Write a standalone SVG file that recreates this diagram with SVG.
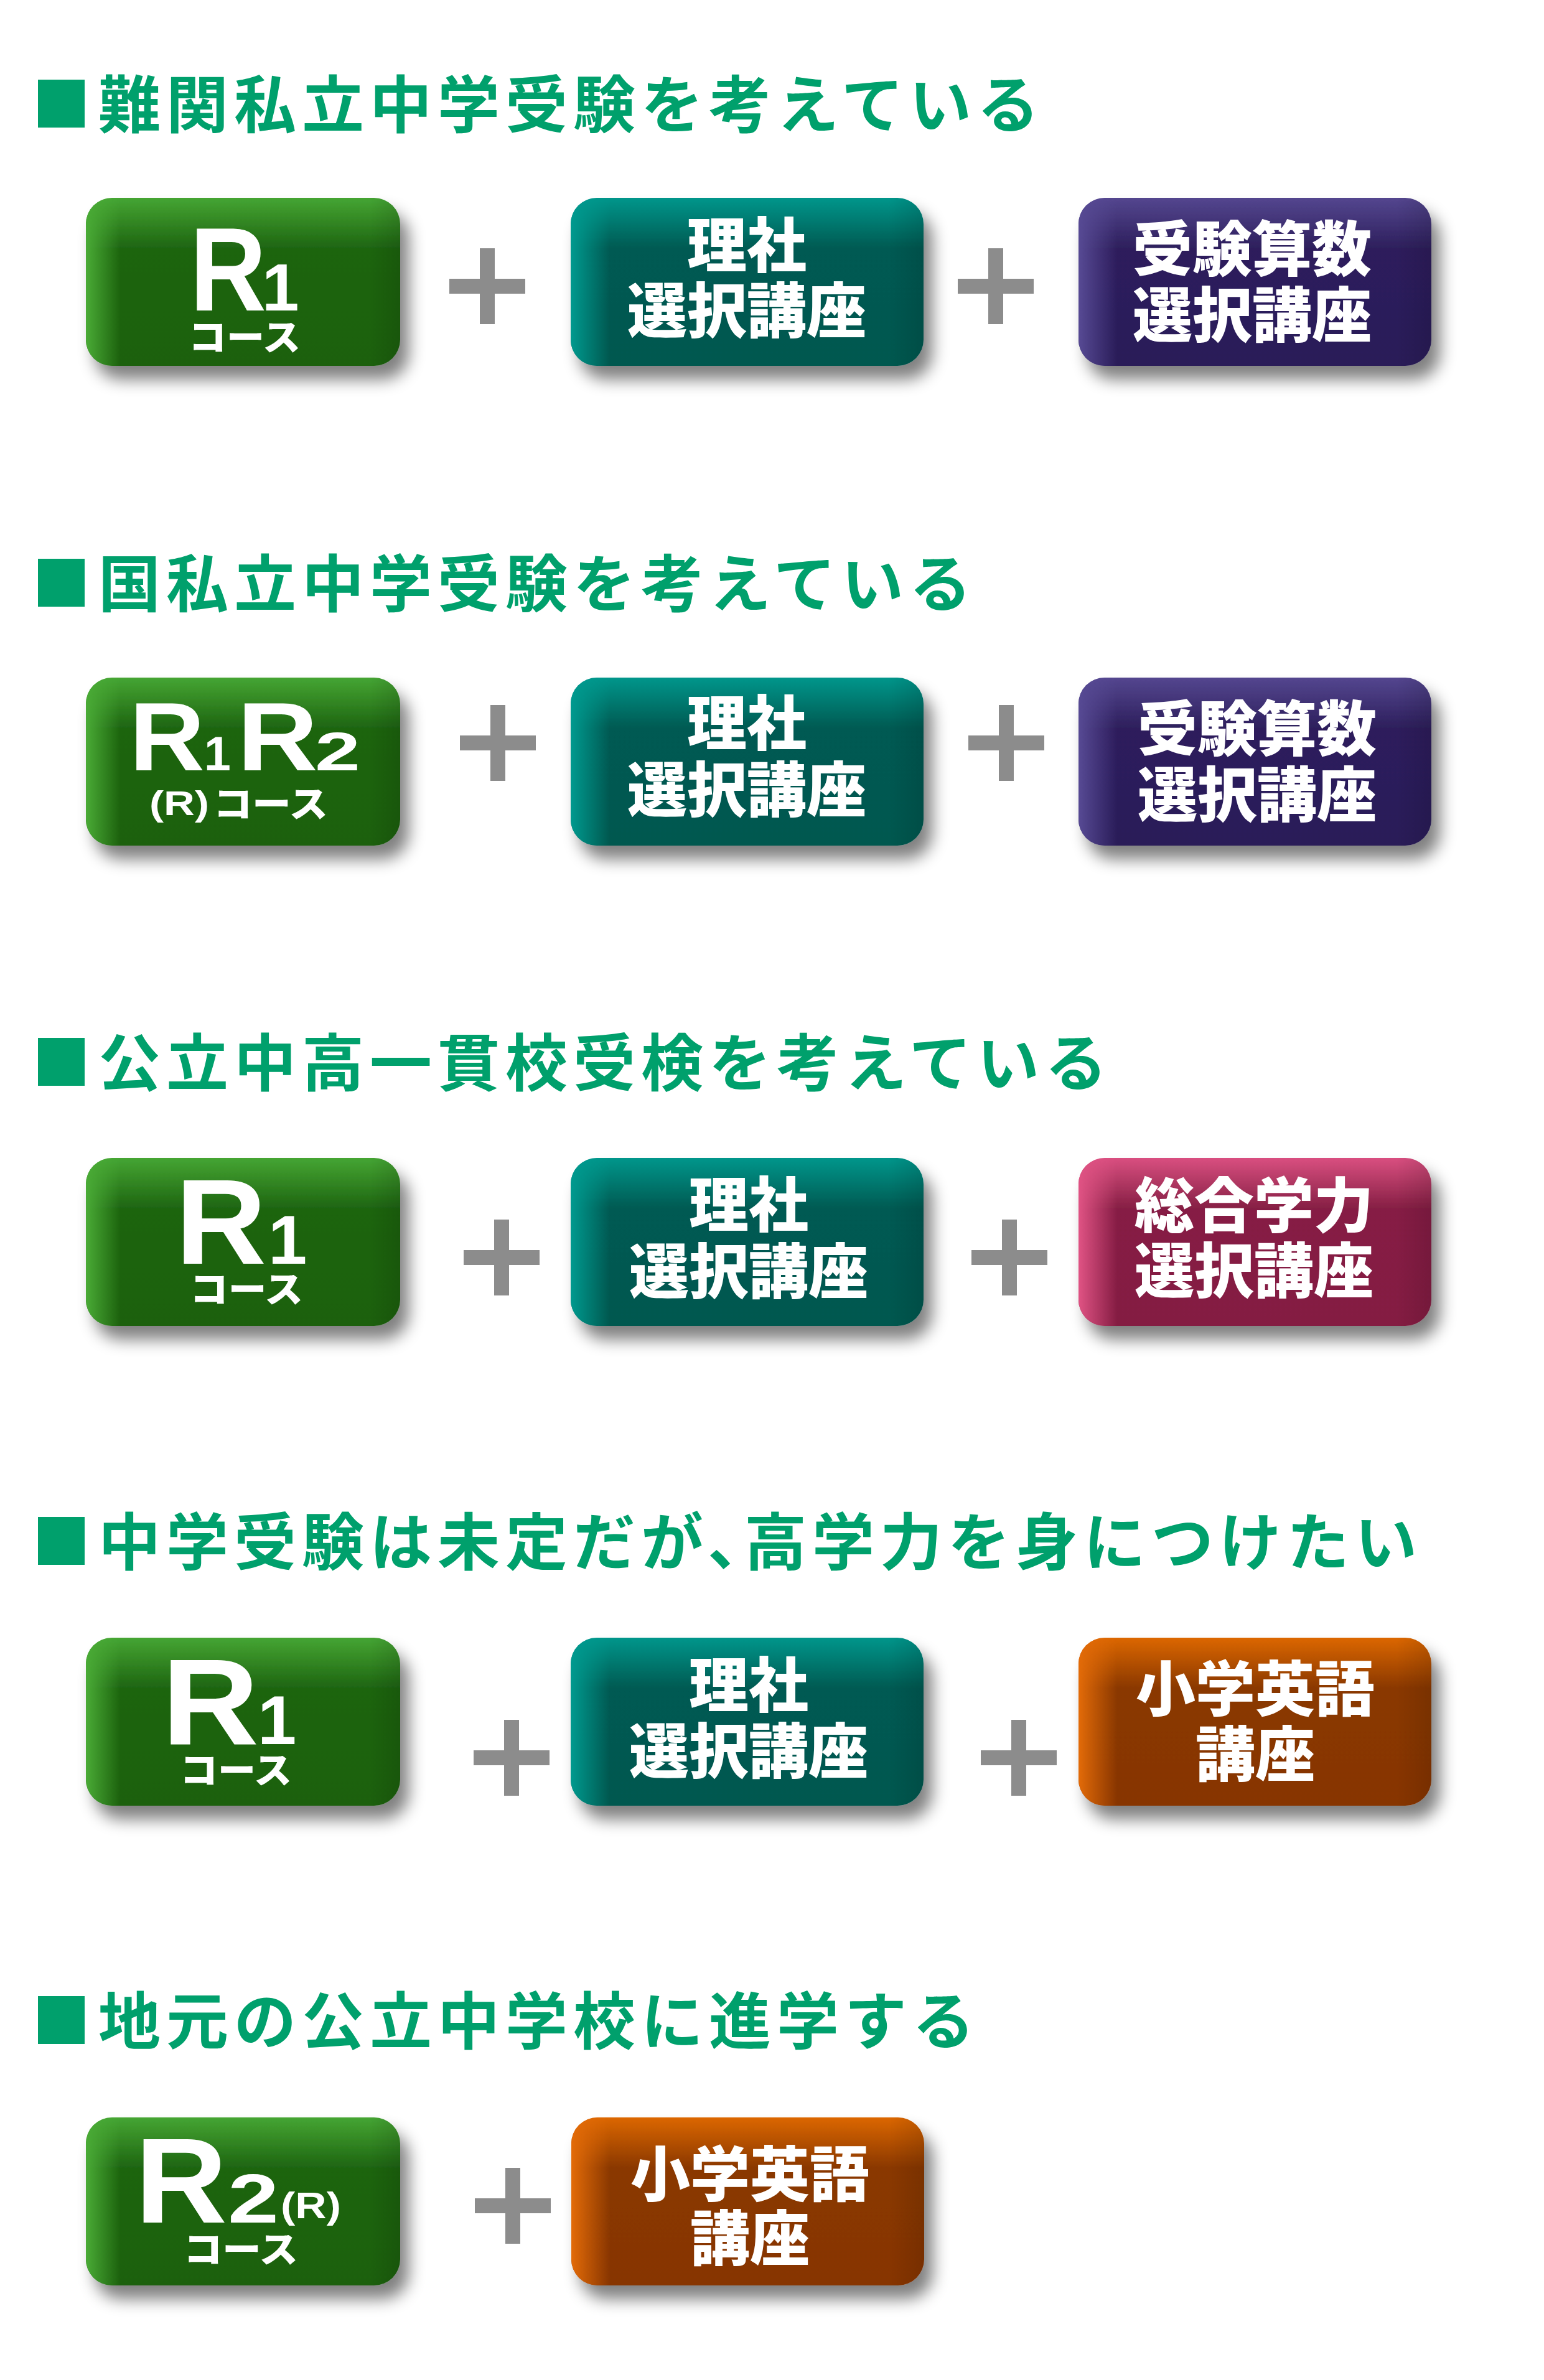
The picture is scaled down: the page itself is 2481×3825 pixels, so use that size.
<svg xmlns="http://www.w3.org/2000/svg" width="2481" height="3825" viewBox="0 0 2481 3825">
<style>
.h{font-family:"Noto Sans CJK JP","Noto Sans CJK SC",sans-serif;font-weight:700;font-size:100px;fill:#00a06c;letter-spacing:9px}
.sq{fill:#00a06c}
.jp{font-family:"Noto Sans CJK JP","Noto Sans CJK SC",sans-serif;font-weight:900;font-size:96px;fill:#fff;text-anchor:middle}
.lat{font-family:"Liberation Sans",Arial,sans-serif;font-weight:700;fill:#fff}
.ks{font-family:"Noto Sans CJK JP","Noto Sans CJK SC",sans-serif;font-weight:900;font-size:58px;fill:#fff}
.plus{fill:#8c8c8c}
</style>
<defs>
<filter id="sh" x="-15%" y="-15%" width="140%" height="150%">
<feGaussianBlur in="SourceAlpha" stdDeviation="13"/>
<feOffset dx="14" dy="22" result="b"/>
<feComponentTransfer in="b"><feFuncA type="linear" slope="0.5"/></feComponentTransfer>
<feMerge><feMergeNode/><feMergeNode in="SourceGraphic"/></feMerge>
</filter>
<linearGradient id="gV" x1="0" y1="0" x2="0" y2="1"><stop offset="0" stop-color="#45a533"/><stop offset="0.3" stop-color="#1e6511"/><stop offset="1" stop-color="#1d6110"/></linearGradient>
<linearGradient id="gH" x1="0" y1="0" x2="1" y2="0"><stop offset="0" stop-color="#4aab36"/><stop offset="0.11" stop-color="#4aab36" stop-opacity="0"/><stop offset="0.9" stop-color="#000" stop-opacity="0"/><stop offset="1" stop-color="#000" stop-opacity="0.12"/></linearGradient>
<linearGradient id="tV" x1="0" y1="0" x2="0" y2="1"><stop offset="0" stop-color="#00968b"/><stop offset="0.3" stop-color="#005a52"/><stop offset="1" stop-color="#005850"/></linearGradient>
<linearGradient id="tH" x1="0" y1="0" x2="1" y2="0"><stop offset="0" stop-color="#009a8f"/><stop offset="0.11" stop-color="#009a8f" stop-opacity="0"/><stop offset="0.9" stop-color="#000" stop-opacity="0"/><stop offset="1" stop-color="#000" stop-opacity="0.12"/></linearGradient>
<linearGradient id="pV" x1="0" y1="0" x2="0" y2="1"><stop offset="0" stop-color="#54468f"/><stop offset="0.3" stop-color="#2d1f5c"/><stop offset="1" stop-color="#2b1e59"/></linearGradient>
<linearGradient id="pH" x1="0" y1="0" x2="1" y2="0"><stop offset="0" stop-color="#574a94"/><stop offset="0.11" stop-color="#574a94" stop-opacity="0"/><stop offset="0.9" stop-color="#000" stop-opacity="0"/><stop offset="1" stop-color="#000" stop-opacity="0.12"/></linearGradient>
<linearGradient id="mV" x1="0" y1="0" x2="0" y2="1"><stop offset="0" stop-color="#d94f80"/><stop offset="0.3" stop-color="#861f44"/><stop offset="1" stop-color="#841e43"/></linearGradient>
<linearGradient id="mH" x1="0" y1="0" x2="1" y2="0"><stop offset="0" stop-color="#e05384"/><stop offset="0.11" stop-color="#e05384" stop-opacity="0"/><stop offset="0.9" stop-color="#000" stop-opacity="0"/><stop offset="1" stop-color="#000" stop-opacity="0.12"/></linearGradient>
<linearGradient id="oV" x1="0" y1="0" x2="0" y2="1"><stop offset="0" stop-color="#dc6706"/><stop offset="0.3" stop-color="#8a3805"/><stop offset="1" stop-color="#873503"/></linearGradient>
<linearGradient id="oH" x1="0" y1="0" x2="1" y2="0"><stop offset="0" stop-color="#e36b08"/><stop offset="0.11" stop-color="#e36b08" stop-opacity="0"/><stop offset="0.9" stop-color="#000" stop-opacity="0"/><stop offset="1" stop-color="#000" stop-opacity="0.12"/></linearGradient>
</defs>
<rect width="2481" height="3825" fill="#fff"/>

<!-- Headings -->
<g id="heading1"><rect class="sq" x="61" y="128" width="75" height="77"/><text class="h" x="158" y="205">難関私立中学受験を考えている</text></g>
<g id="heading2"><rect class="sq" x="61" y="898" width="75" height="77"/><text class="h" x="158" y="975">国私立中学受験を考えている</text></g>
<g id="heading3"><rect class="sq" x="61" y="1668" width="75" height="77"/><text class="h" x="158" y="1745">公立中高一貫校受検を考えている</text></g>
<g id="heading4"><rect class="sq" x="61" y="2438" width="75" height="77"/><text class="h" x="158" y="2515">中学受験は未定だが、<tspan dx="-50">高学力を身につけたい</tspan></text></g>
<g id="heading5"><rect class="sq" x="61" y="3208" width="75" height="77"/><text class="h" x="158" y="3285">地元の公立中学校に進学する</text></g>

<!-- Row 1 -->
<g id="r1-course">
<rect x="138" y="318" width="505" height="270" rx="42" fill="url(#gV)" filter="url(#sh)"/>
<rect x="138" y="318" width="505" height="270" rx="42" fill="url(#gH)"/>
<text class="lat" y="499"><tspan x="305" font-size="191" textLength="123" lengthAdjust="spacingAndGlyphs">R</tspan><tspan x="421" font-size="107">1</tspan></text>
<text class="ks" x="393" y="563" text-anchor="middle" textLength="180" lengthAdjust="spacingAndGlyphs">コース</text>
</g>
<g id="r1-rika">
<rect x="917" y="318" width="567" height="270" rx="42" fill="url(#tV)" filter="url(#sh)"/>
<rect x="917" y="318" width="567" height="270" rx="42" fill="url(#tH)"/>
<text class="jp" x="1200" y="429">理社</text>
<text class="jp" x="1200" y="534">選択講座</text>
</g>
<g id="r1-sansu">
<rect x="1733" y="318" width="567" height="270" rx="42" fill="url(#pV)" filter="url(#sh)"/>
<rect x="1733" y="318" width="567" height="270" rx="42" fill="url(#pH)"/>
<text class="jp" x="2012" y="435">受験算数</text>
<text class="jp" x="2012" y="541">選択講座</text>
</g>

<!-- Row 2 -->
<g id="r2-course">
<rect x="138" y="1089" width="505" height="270" rx="42" fill="url(#gV)" filter="url(#sh)"/>
<rect x="138" y="1089" width="505" height="270" rx="42" fill="url(#gH)"/>
<text class="lat" y="1238"><tspan x="208" font-size="156" textLength="121" lengthAdjust="spacingAndGlyphs">R</tspan><tspan x="328" font-size="77">1</tspan><tspan x="381" font-size="156" textLength="130" lengthAdjust="spacingAndGlyphs">R</tspan><tspan x="506" font-size="88" textLength="73" lengthAdjust="spacingAndGlyphs">2</tspan></text>
<text y="1310"><tspan class="lat" x="240" font-size="55" textLength="96" lengthAdjust="spacingAndGlyphs">(R)</tspan><tspan class="ks" x="343" y="1313" textLength="184" lengthAdjust="spacingAndGlyphs">コース</tspan></text>
</g>
<g id="r2-rika">
<rect x="917" y="1089" width="567" height="270" rx="42" fill="url(#tV)" filter="url(#sh)"/>
<rect x="917" y="1089" width="567" height="270" rx="42" fill="url(#tH)"/>
<text class="jp" x="1200" y="1197">理社</text>
<text class="jp" x="1200" y="1304">選択講座</text>
</g>
<g id="r2-sansu">
<rect x="1733" y="1089" width="567" height="270" rx="42" fill="url(#pV)" filter="url(#sh)"/>
<rect x="1733" y="1089" width="567" height="270" rx="42" fill="url(#pH)"/>
<text class="jp" x="2020" y="1206">受験算数</text>
<text class="jp" x="2020" y="1312">選択講座</text>
</g>

<!-- Row 3 -->
<g id="r3-course">
<rect x="138" y="1861" width="505" height="270" rx="42" fill="url(#gV)" filter="url(#sh)"/>
<rect x="138" y="1861" width="505" height="270" rx="42" fill="url(#gH)"/>
<text class="lat" y="2031"><tspan x="282" font-size="194" textLength="146" lengthAdjust="spacingAndGlyphs">R</tspan><tspan x="431" font-size="112">1</tspan></text>
<text class="ks" x="396" y="2093" text-anchor="middle" textLength="182" lengthAdjust="spacingAndGlyphs">コース</text>
</g>
<g id="r3-rika">
<rect x="917" y="1861" width="567" height="270" rx="42" fill="url(#tV)" filter="url(#sh)"/>
<rect x="917" y="1861" width="567" height="270" rx="42" fill="url(#tH)"/>
<text class="jp" x="1203" y="1971">理社</text>
<text class="jp" x="1203" y="2078">選択講座</text>
</g>
<g id="r3-sogo">
<rect x="1733" y="1861" width="567" height="270" rx="42" fill="url(#mV)" filter="url(#sh)"/>
<rect x="1733" y="1861" width="567" height="270" rx="42" fill="url(#mH)"/>
<text class="jp" x="2015" y="1972">総合学力</text>
<text class="jp" x="2015" y="2077">選択講座</text>
</g>

<!-- Row 4 -->
<g id="r4-course">
<rect x="138" y="2632" width="505" height="270" rx="42" fill="url(#gV)" filter="url(#sh)"/>
<rect x="138" y="2632" width="505" height="270" rx="42" fill="url(#gH)"/>
<text class="lat" y="2803"><tspan x="260" font-size="196" textLength="156" lengthAdjust="spacingAndGlyphs">R</tspan><tspan x="414" font-size="112">1</tspan></text>
<text class="ks" x="379" y="2866" text-anchor="middle" textLength="180" lengthAdjust="spacingAndGlyphs">コース</text>
</g>
<g id="r4-rika">
<rect x="917" y="2632" width="567" height="270" rx="42" fill="url(#tV)" filter="url(#sh)"/>
<rect x="917" y="2632" width="567" height="270" rx="42" fill="url(#tH)"/>
<text class="jp" x="1203" y="2743">理社</text>
<text class="jp" x="1203" y="2849">選択講座</text>
</g>
<g id="r4-eigo">
<rect x="1733" y="2632" width="567" height="270" rx="42" fill="url(#oV)" filter="url(#sh)"/>
<rect x="1733" y="2632" width="567" height="270" rx="42" fill="url(#oH)"/>
<text class="jp" x="2017" y="2749">小学英語</text>
<text class="jp" x="2017" y="2854">講座</text>
</g>

<!-- Row 5 -->
<g id="r5-course">
<rect x="138" y="3403" width="505" height="270" rx="42" fill="url(#gV)" filter="url(#sh)"/>
<rect x="138" y="3403" width="505" height="270" rx="42" fill="url(#gH)"/>
<text class="lat" y="3572"><tspan x="217" font-size="194" textLength="148" lengthAdjust="spacingAndGlyphs">R</tspan><tspan x="366" font-size="112" textLength="82" lengthAdjust="spacingAndGlyphs">2</tspan><tspan x="451" y="3565" font-size="60" textLength="97" lengthAdjust="spacingAndGlyphs">(R)</tspan></text>
<text class="ks" x="387" y="3636" text-anchor="middle" textLength="184" lengthAdjust="spacingAndGlyphs">コース</text>
</g>
<g id="r5-eigo">
<rect x="918" y="3403" width="567" height="270" rx="42" fill="url(#oV)" filter="url(#sh)"/>
<rect x="918" y="3403" width="567" height="270" rx="42" fill="url(#oH)"/>
<text class="jp" x="1205" y="3529">小学英語</text>
<text class="jp" x="1205" y="3632">講座</text>
</g>

<!-- Connectors (plus signs) -->
<g id="connectors" class="plus">
<path d="M771 399h24v49h49v24h-49v49h-24v-49h-49v-24h49z"/>
<path d="M1588 399h24v49h49v24h-49v49h-24v-49h-49v-24h49z"/>
<path d="M788 1133h24v49h49v24h-49v49h-24v-49h-49v-24h49z"/>
<path d="M1605 1133h24v49h49v24h-49v49h-24v-49h-49v-24h49z"/>
<path d="M794 1960h24v49h49v24h-49v49h-24v-49h-49v-24h49z"/>
<path d="M1610 1960h24v49h49v24h-49v49h-24v-49h-49v-24h49z"/>
<path d="M810 2764h24v49h49v24h-49v49h-24v-49h-49v-24h49z"/>
<path d="M1625 2764h24v49h49v24h-49v49h-24v-49h-49v-24h49z"/>
<path d="M812 3484h24v49h49v24h-49v49h-24v-49h-49v-24h49z"/>
</g>
</svg>
